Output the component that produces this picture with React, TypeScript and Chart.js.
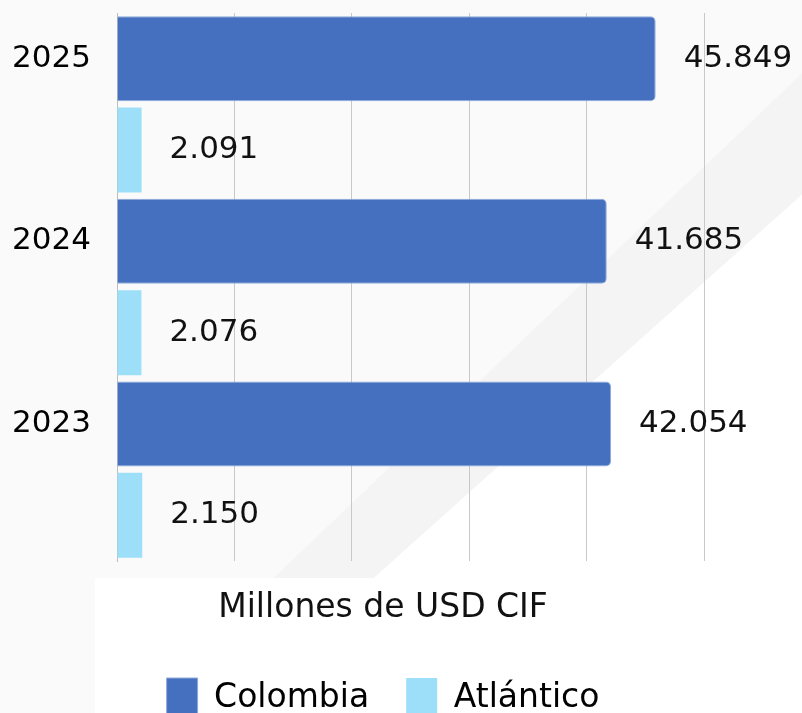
import React, { useEffect, useRef } from 'react';
import { Chart, registerables } from 'chart.js';

Chart.register(...registerables);

const years = ['2025', '2024', '2023'];
const colombia = [45849, 41685, 42054];
const atlantico = [2091, 2076, 2150];
const seriesNames = ['Colombia', 'Atlántico'];
const axisTitle = 'Millones de USD CIF';
const gridTicks = [0, 10000, 20000, 30000, 40000, 50000];

const FONT = '"DejaVu Sans", sans-serif';
const W = 802;
const H = 713;

const fmt = (v: number) => String(v).replace(/\B(?=(\d{3})+(?!\d))/g, '.');

const bgPlugin = {
  id: 'bgPlugin',
  beforeDraw(chart: any) {
    const { ctx, width, height } = chart;
    ctx.save();
    ctx.fillStyle = '#FAFAFA';
    ctx.fillRect(0, 0, width, height);
    const l1 = (y: number) => 617 + (250 - y) * 1.047;
    const l2 = (y: number) => 740 + (250 - y) * 1.117;
    ctx.fillStyle = '#F4F4F4';
    ctx.beginPath();
    ctx.moveTo(l1(-300), -300);
    ctx.lineTo(3000, -300);
    ctx.lineTo(3000, 2000);
    ctx.lineTo(l1(2000), 2000);
    ctx.closePath();
    ctx.fill();
    ctx.fillStyle = '#FFFFFF';
    ctx.beginPath();
    ctx.moveTo(l2(-300), -300);
    ctx.lineTo(3000, -300);
    ctx.lineTo(3000, 2000);
    ctx.lineTo(l2(2000), 2000);
    ctx.closePath();
    ctx.fill();
    ctx.fillRect(95, 578, width - 95, height - 578);
    ctx.restore();
  },
  afterLayout(chart: any) {
    const lg = chart.legend;
    if (lg) {
      const pad = lg.options.labels.padding;
      lg.left = 0;
      lg.right = 766;
      lg.width = 766;
      lg.top = 678 - pad;
      lg.bottom = H + 60;
      lg.height = lg.bottom - lg.top;
    }
  },
  afterDatasetsDraw(chart: any) {
    const { ctx } = chart;
    ctx.save();
    ctx.font = `31px ${FONT}`;
    ctx.fillStyle = '#111111';
    ctx.textAlign = 'left';
    ctx.textBaseline = 'middle';
    chart.data.datasets.forEach((ds: any, di: number) => {
      const meta = chart.getDatasetMeta(di);
      meta.data.forEach((bar: any, i: number) => {
        ctx.fillText(fmt(ds.data[i]), bar.x + 28, bar.y);
      });
    });
    ctx.font = `33px ${FONT}`;
    ctx.textAlign = 'center';
    ctx.textBaseline = 'alphabetic';
    ctx.fillText(axisTitle, 383, 617);
    ctx.restore();
  },
};

export default function App() {
  const ref = useRef<HTMLCanvasElement>(null);
  useEffect(() => {
    if (!ref.current) return;
    const chart = new Chart(ref.current, {
      type: 'bar',
      data: {
        labels: years,
        datasets: [
          {
            label: seriesNames[0],
            data: colombia,
            backgroundColor: '#4470BF',
            borderColor: '#8FA9DA',
            borderWidth: 1,
            borderRadius: 5,
            borderSkipped: 'start',
            barPercentage: 0.93,
            categoryPercentage: 1,
          },
          {
            label: seriesNames[1],
            data: atlantico,
            backgroundColor: '#9DDFF8',
            borderWidth: 0,
            borderRadius: 0,
            barPercentage: 0.93,
            categoryPercentage: 1,
          },
        ],
      },
      options: {
        indexAxis: 'y',
        responsive: false,
        animation: false,
        devicePixelRatio: 1,
        layout: { padding: { top: 13, left: 0, right: 0, bottom: 0 } },
        plugins: {
          tooltip: { enabled: false },
          legend: {
            position: 'bottom',
            align: 'center',
            labels: {
              boxWidth: 31,
              boxHeight: 40,
              padding: 37,
              color: '#000000',
              font: { family: FONT, size: 33 },
            },
          },
        },
        scales: {
          x: {
            min: 0,
            max: 58300,
            afterBuildTicks: (scale: any) => {
              scale.ticks = gridTicks.map((v) => ({ value: v }));
            },
            afterFit: (scale: any) => {
              const lh = scale.chart.legend ? scale.chart.legend.height : 0;
              scale.height = Math.max(0, 152 - lh);
              scale.paddingLeft = 0;
              scale.paddingRight = 0;
            },
            ticks: { display: false },
            grid: { color: '#C8C8C8', lineWidth: 1, drawTicks: false },
            border: { display: false },
          },
          y: {
            afterFit: (scale: any) => {
              scale.width = 117;
              scale.paddingTop = 0;
              scale.paddingBottom = 0;
            },
            ticks: {
              color: '#000000',
              font: { family: FONT, size: 31 },
              padding: 26,
              labelOffset: -45.6,
            },
            grid: { display: false, drawTicks: false },
            border: { display: true, color: '#BDBDBD', width: 1 },
          },
        },
      },
      plugins: [bgPlugin],
    } as any);
    return () => chart.destroy();
  }, []);
  return (
    <div style={{ position: 'absolute', left: 0, top: 0, width: W, height: H, overflow: 'hidden' }}>
      <canvas ref={ref} width={W} height={H} style={{ display: 'block' }} />
    </div>
  );
}
